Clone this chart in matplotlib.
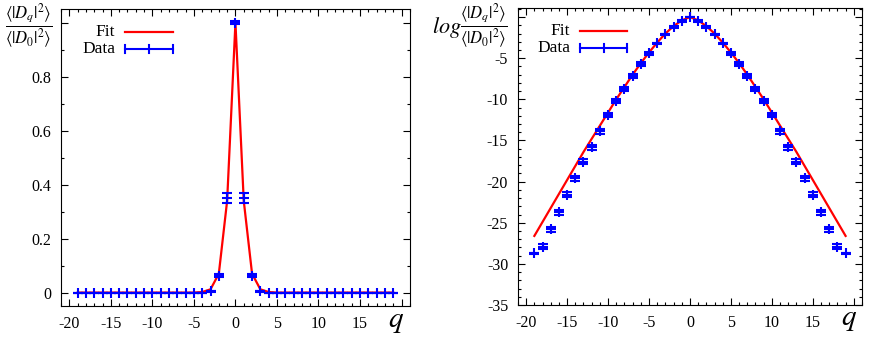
import numpy as np
import matplotlib
matplotlib.use("Agg")
import matplotlib.pyplot as plt
from matplotlib.ticker import MultipleLocator

# ==== data ====
q = list(range(-19, 20))

# linear panel: <|D_q|^2>/<|D_0|^2>
half_lin = [1.0, 0.35, 0.062, 0.005] + [0.0] * 16
half_lin_err = [0.005, 0.017, 0.006, 0.002] + [0.0] * 16
half_fit_lin = [1.0, 0.34, 0.07, 0.012, 0.002] + [0.0] * 15

# log panel
half_log = [0.0, -0.5, -1.2, -2.1, -3.2, -4.4, -5.7, -7.2, -8.7, -10.2,
            -11.9, -13.9, -15.8, -17.6, -19.6, -21.6, -23.7, -25.8, -27.9, -28.7]
half_log_err = [0.05, 0.1, 0.1, 0.1, 0.1, 0.2, 0.25, 0.25, 0.25, 0.25,
                0.3, 0.3, 0.3, 0.3, 0.3, 0.3, 0.3, 0.3, 0.3, 0.05]
half_fit_log = [0.0, -0.4, -1.1, -2.0, -3.1, -4.3, -5.6, -7.0, -8.5, -10.0,
                -11.6, -13.2, -14.8, -16.4, -18.1, -19.8, -21.5, -23.2, -24.9, -26.6]


def mirror(half):
    return half[:0:-1] + half


lin, lin_err, fit_lin = mirror(half_lin), mirror(half_lin_err), mirror(half_fit_lin)
logv, log_err, fit_log = mirror(half_log), mirror(half_log_err), mirror(half_fit_log)

# ---------- style ----------
plt.rcParams.update({
    "font.family": "Liberation Serif",
    "font.size": 11.5,
    "mathtext.fontset": "stix",
    "axes.unicode_minus": False,
})

fig = plt.figure(figsize=(8.72, 3.49), dpi=100)
ax1 = fig.add_axes([0.070, 0.123, 0.400, 0.851])
ax2 = fig.add_axes([0.594, 0.126, 0.3945, 0.851])

frac = r"\dfrac{\langle|D_q|^2\rangle}{\langle|D_0|^2\rangle}"


def style(ax, qx):
    ax.set_xlim(-21, 21)
    ax.xaxis.set_major_locator(MultipleLocator(5))
    ax.xaxis.set_minor_locator(MultipleLocator(1))
    ax.tick_params(which="both", direction="in", top=True, right=True)
    ax.tick_params(which="major", length=5, width=0.8)
    ax.tick_params(which="minor", length=2.5, width=0.8)
    ax.tick_params(axis="x", pad=7)
    ax.tick_params(axis="y", pad=7)
    ax.set_xticks(range(-20, 21, 5))
    ax.set_xticklabels([str(v) for v in range(-20, 20, 5)] + [""])
    ax.text(qx, -0.052, "$q$", transform=ax.transAxes, fontsize=21,
            ha="right", va="center")


def draw(ax, y, yerr, fit, leg_x0):
    ax.plot(q, fit, color="red", lw=1.6, zorder=2)
    ax.errorbar(q, y, yerr=yerr, fmt="+", color="blue", ms=7, mew=1.5,
                elinewidth=1.5, capsize=3.3, capthick=1.5, zorder=3)
    # gnuplot-like key
    ax.text(leg_x0 - 0.028, 0.922, "Fit", transform=ax.transAxes,
            ha="right", va="center", fontsize=12.5)
    ax.text(leg_x0 - 0.028, 0.866, "Data", transform=ax.transAxes,
            ha="right", va="center", fontsize=12.5)
    ax.plot([leg_x0, leg_x0 + 0.138], [0.922, 0.922], color="red", lw=1.6,
            transform=ax.transAxes)
    ax.plot([leg_x0, leg_x0 + 0.138], [0.866, 0.866], color="blue", lw=1.5,
            transform=ax.transAxes)
    for xx in (leg_x0, leg_x0 + 0.069, leg_x0 + 0.138):
        ax.plot([xx, xx], [0.853, 0.879], color="blue", lw=1.5,
                transform=ax.transAxes)


# ---------- left panel ----------
style(ax1, 0.983)
draw(ax1, lin, lin_err, fit_lin, 0.183)
ax1.set_ylim(-0.05, 1.05)
ax1.set_yticks([0, 0.2, 0.4, 0.6, 0.8, 1.0])
ax1.set_yticklabels(["0", "0.2", "0.4", "0.6", "0.8", ""])
ax1.yaxis.set_minor_locator(MultipleLocator(0.1))
fig.text(0.033, 0.927, "$" + frac + "$", fontsize=12, ha="center", va="center")

# ---------- right panel ----------
style(ax2, 0.985)
draw(ax2, logv, log_err, fit_log, 0.180)
ax2.set_ylim(-35, 1.1)
ax2.set_yticks(range(-35, 1, 5))
ax2.set_yticklabels([str(v) for v in range(-35, 0, 5)] + [""])
ax2.yaxis.set_minor_locator(MultipleLocator(1))
fig.text(0.495, 0.921, r"$log$", fontsize=16, ha="left", va="center")
fig.text(0.527, 0.927, "$" + frac + "$", fontsize=12, ha="left", va="center")

fig.savefig("out.png", dpi=100)
